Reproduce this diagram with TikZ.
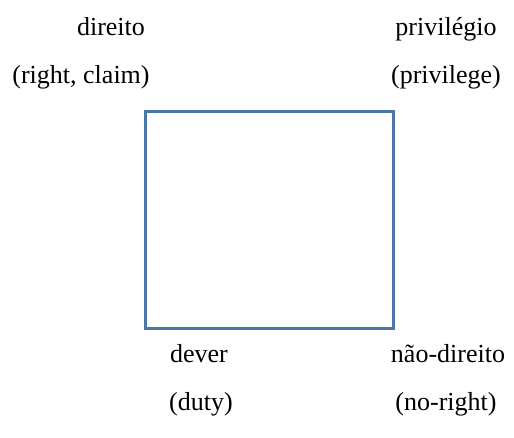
\documentclass[tikz,border=0pt]{standalone}
\usepackage{fontspec}
\setmainfont{Liberation Serif}
\definecolor{boxblue}{RGB}{74,118,168}
\begin{document}
\begin{tikzpicture}[x=1pt,y=-1pt,
  lbl/.style={anchor=base,inner sep=0pt,font=\fontsize{26}{30}\selectfont}]
\useasboundingbox (0,0) rectangle (514,438);
\node[draw=boxblue,line width=2.2pt,minimum width=248pt,minimum height=217pt,inner sep=0pt] (box) at (269.5,220) {};
\node[lbl] (d1) at (111,36) {direito};
\node[lbl] (d2) at (81,84) {(right, claim)};
\node[lbl] (p1) at (446,36) {privilégio};
\node[lbl] (p2) at (446,84) {(privilege)};
\node[lbl] (v1) at (199,362) {dever};
\node[lbl] (v2) at (201,410) {(duty)};
\node[lbl] (n1) at (448,362) {não-direito};
\node[lbl] (n2) at (446,410) {(no-right)};
\end{tikzpicture}
\end{document}
